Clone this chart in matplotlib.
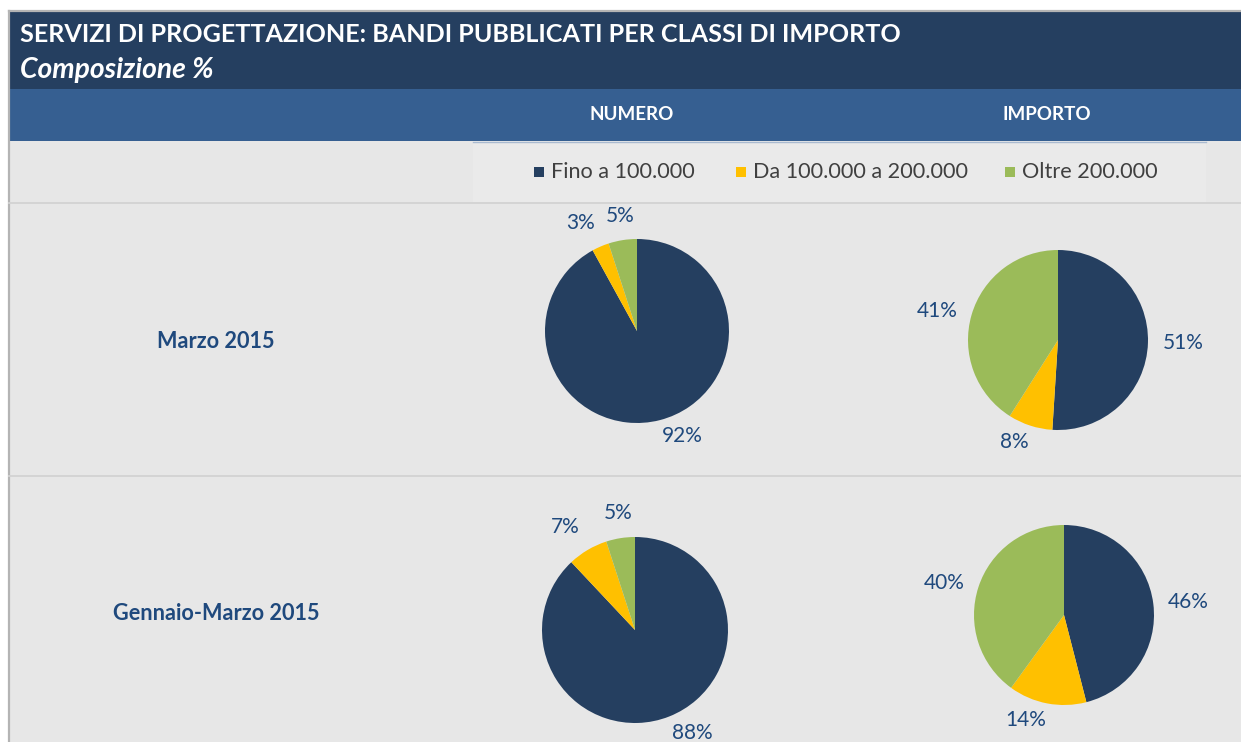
import matplotlib
matplotlib.use("Agg")
import matplotlib.pyplot as plt
import numpy as np
from matplotlib.patches import Rectangle

plt.rcParams["font.family"] = ["Lato", "DejaVu Sans"]

W, H = 1241, 742

NAVY = "#253f60"
BLUE = "#365f91"
BG = "#e7e7e7"
LABEL = "#1f497d"

# dati
categorie = ["Fino a 100.000", "Da 100.000 a 200.000", "Oltre 200.000"]
colori = ["#253f60", "#ffc000", "#9bbb59"]
periodi = ["Marzo 2015", "Gennaio-Marzo 2015"]
colonne = ["NUMERO", "IMPORTO"]
numero = [[92, 3, 5], [88, 7, 5]]
importo = [[51, 8, 41], [46, 14, 40]]

fig = plt.figure(figsize=(W / 100, H / 100), dpi=100)
fig.patch.set_facecolor("white")
bg = fig.add_axes([0, 0, 1, 1])
bg.set_xlim(0, W)
bg.set_ylim(H, 0)
bg.axis("off")

# fasce intestazione
bg.add_patch(Rectangle((9, 11), W - 9, H - 11, fc=BG, ec="none"))
bg.add_patch(Rectangle((9, 11), W - 9, 78, fc=NAVY, ec="none"))
bg.add_patch(Rectangle((9, 89), W - 9, 52, fc=BLUE, ec="none"))
bg.plot([9, 9], [11, H], color="#b4b4b4", lw=1.6)
bg.plot([9, W], [11, 11], color="#b4b4b4", lw=1.6)
bg.add_patch(Rectangle((473, 141), 733, 62, fc="#eaeaea", ec="none"))
bg.plot([473, 1206], [141.5, 141.5], color="#a9bad0", lw=1)
for y in (203, 476):
    bg.plot([9, W], [y, y], color="#d2d2d2", lw=1.3)

bg.text(20, 34, "SERVIZI DI PROGETTAZIONE: BANDI PUBBLICATI PER CLASSI DI IMPORTO",
        color="white", fontsize=18.1, fontweight="bold", ha="left", va="center")
bg.text(20, 70, "Composizione %", color="white", fontsize=20.3, fontweight="bold",
        fontstyle="italic", ha="left", va="center")

col_x = [632, 1047]
for x, c in zip(col_x, colonne):
    bg.text(x, 115, c, color="white", fontsize=13.5, fontweight="bold", ha="center", va="center")

# legenda
leg_x = [534, 736, 1005]
for x, lab, col in zip(leg_x, categorie, colori):
    bg.add_patch(Rectangle((x, 167), 10, 10, fc=col, ec="none"))
    bg.text(x + 17, 172, lab, color="#404040", fontsize=15.6, ha="left", va="center")

row_y = [341, 613]
for y, p in zip(row_y, periodi):
    bg.text(216, y, p, color=LABEL, fontsize=15.6, fontweight="bold", ha="center", va="center")


def pie_at(cx, cy, r, vals):
    s = 340
    ax = fig.add_axes([(cx - s / 2) / W, 1 - (cy + s / 2) / H, s / W, s / H])
    wedges, _ = ax.pie(vals, colors=colori, startangle=90, counterclock=False,
                       radius=1, wedgeprops=dict(linewidth=0))
    lim = s / 2 / r
    ax.set_xlim(-lim, lim)
    ax.set_ylim(-lim, lim)
    ax.axis("off")
    for w, v in zip(wedges, vals):
        a = np.deg2rad((w.theta1 + w.theta2) / 2)
        c, sn = np.cos(a), np.sin(a)
        ha = "left" if c > 0.17 else ("right" if c < -0.17 else "center")
        va = "top" if sn < -0.5 else ("bottom" if sn > 0.5 else "center")
        d = 1.07 if va == "top" else 1.16
        ax.text(d * c, d * sn, f"{v}%", ha=ha, va=va, color=LABEL, fontsize=15)


pie_at(637, 331, 92, numero[0])
pie_at(1058, 340, 90, importo[0])
pie_at(635, 630, 93, numero[1])
pie_at(1064, 615, 90, importo[1])

fig.savefig("out.png", dpi=100, facecolor="white")
